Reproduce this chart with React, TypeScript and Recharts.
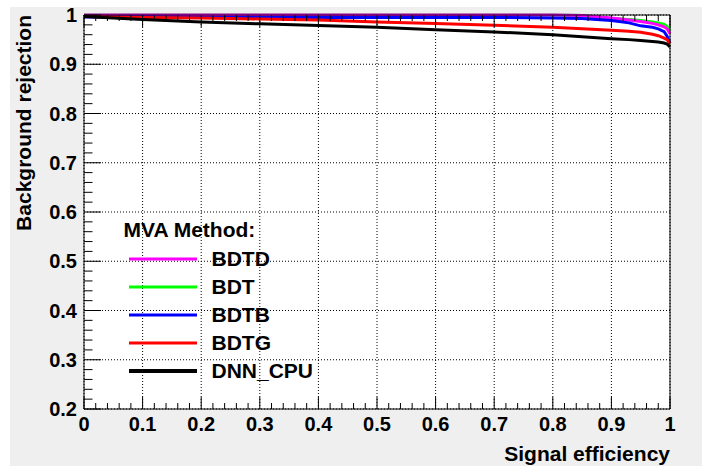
import React from 'react';
import { LineChart, Line, XAxis, YAxis, CartesianGrid, Legend } from 'recharts';

// Signal efficiency sample points
const effs = [0, 0.05, 0.1, 0.2, 0.3, 0.4, 0.5, 0.6, 0.7, 0.8, 0.85, 0.9, 0.93, 0.95, 0.97, 0.98, 0.99, 0.995, 1.0];
// Background rejection per method
const bdtd = [1, 1, 1, 1, 1, 1, 1, 1, 1, 1, 0.999, 0.994, 0.99, 0.987, 0.983, 0.98, 0.976, 0.972, 0.962];
const bdt = [1, 1, 1, 1, 1, 1, 1, 1, 1, 1, 0.999, 0.993, 0.991, 0.989, 0.986, 0.984, 0.981, 0.977, 0.968];
const bdtb = [0.996, 0.996, 0.996, 0.995, 0.995, 0.995, 0.995, 0.995, 0.995, 0.994, 0.993, 0.989, 0.984, 0.978, 0.975, 0.972, 0.966, 0.957, 0.943];
const bdtg = [0.997, 0.996, 0.995, 0.994, 0.992, 0.99, 0.986, 0.9825, 0.979, 0.975, 0.972, 0.969, 0.967, 0.965, 0.961, 0.958, 0.953, 0.95, 0.942];
const dnn = [0.997, 0.994, 0.991, 0.986, 0.982, 0.9785, 0.975, 0.97, 0.9656, 0.96, 0.956, 0.952, 0.95, 0.948, 0.946, 0.945, 0.943, 0.941, 0.935];

// Legend order
const seriesNames = ['BDTD', 'BDT', 'BDTB', 'BDTG', 'DNN_CPU'];
const seriesColors = ['#ff00ff', '#00ff00', '#0000ff', '#ff0000', '#000000'];
const seriesValues = [bdtd, bdt, bdtb, bdtg, dnn];
// Drawing order (indices into the arrays above)
const drawOrder = [1, 0, 2, 3, 4];

const xMajorTicks = [0, 0.1, 0.2, 0.3, 0.4, 0.5, 0.6, 0.7, 0.8, 0.9, 1];
const yMajorTicks = [0.2, 0.3, 0.4, 0.5, 0.6, 0.7, 0.8, 0.9, 1];
const xLabels = ['0', '0.1', '0.2', '0.3', '0.4', '0.5', '0.6', '0.7', '0.8', '0.9', '1'];
const yLabels = ['0.2', '0.3', '0.4', '0.5', '0.6', '0.7', '0.8', '0.9', '1'];

const xTitle = 'Signal efficiency';
const yTitle = 'Background rejection';
const legendTitle = 'MVA Method:';

const xAllTicks = Array.from({ length: 51 }, (_, i) => Math.round(i * 2) / 100);
const yAllTicks = Array.from({ length: 41 }, (_, i) => Math.round(20 + i * 2) / 100);

const data = effs.map((e, i) => {
  const row: any = { eff: e };
  seriesNames.forEach((n, k) => {
    row[n] = seriesValues[k][i];
  });
  return row;
});

const FONT = '"Liberation Sans", Arial, Helvetica, sans-serif';

const majorIndex = (arr: number[], v: number) => arr.findIndex((m) => Math.abs(m - v) < 1e-6);

const BottomTick = (props: any) => {
  const { x, y, payload } = props;
  const idx = majorIndex(xMajorTicks, payload.value);
  const len = idx >= 0 ? 12 : 6;
  return (
    <g>
      <line x1={x} y1={y} x2={x} y2={y - len} stroke="#000" strokeWidth={1} />
      {idx >= 0 && (
        <text x={x} y={y + 22} textAnchor="middle" fontFamily={FONT} fontWeight="bold" fontSize={20} fill="#000">
          {xLabels[idx]}
        </text>
      )}
    </g>
  );
};

const TopTick = (props: any) => {
  const { x, y, payload } = props;
  const idx = majorIndex(xMajorTicks, payload.value);
  const len = idx >= 0 ? 12 : 6;
  return <line x1={x} y1={y} x2={x} y2={y + len} stroke="#000" strokeWidth={1} />;
};

const LeftTick = (props: any) => {
  const { x, y, payload } = props;
  const idx = majorIndex(yMajorTicks, payload.value);
  const len = idx >= 0 ? 17 : 8.5;
  return (
    <g>
      <line x1={x} y1={y} x2={x + len} y2={y} stroke="#000" strokeWidth={1} />
      {idx >= 0 && (
        <text x={x - 7} y={y + 7} textAnchor="end" fontFamily={FONT} fontWeight="bold" fontSize={20} fill="#000">
          {yLabels[idx]}
        </text>
      )}
    </g>
  );
};

const RightTick = (props: any) => {
  const { x, y, payload } = props;
  const idx = majorIndex(yMajorTicks, payload.value);
  const len = idx >= 0 ? 17 : 8.5;
  return <line x1={x} y1={y} x2={x - len} y2={y} stroke="#000" strokeWidth={1} />;
};

const XTitle = () => (
  <text x={670} y={461} textAnchor="end" fontFamily={FONT} fontWeight="bold" fontSize={21} fill="#000">
    {xTitle}
  </text>
);

const YTitle = () => (
  <text
    x={31}
    y={15}
    transform="rotate(-90, 31, 15)"
    textAnchor="end"
    fontFamily={FONT}
    fontWeight="bold"
    fontSize={21}
    fill="#000"
  >
    {yTitle}
  </text>
);

const LegendBox = () => (
  <svg width={200} height={180} style={{ overflow: 'visible' }}>
    <text x={13.5} y={27} fontFamily={FONT} fontWeight="bold" fontSize={21} fill="#000">
      {legendTitle}
    </text>
    {seriesNames.map((n, i) => (
      <g key={n}>
        <line x1={19} x2={87} y1={49 + i * 28} y2={49 + i * 28} stroke={seriesColors[i]} strokeWidth={i === 4 ? 4 : 3} />
        <text x={101.5} y={56 + i * 28} fontFamily={FONT} fontWeight="bold" fontSize={21} fill="#000">
          {n}
        </text>
      </g>
    ))}
  </svg>
);

export default function App() {
  return (
    <div style={{ position: 'absolute', left: 0, top: 0, width: 702, height: 466, background: '#ffffff', overflow: 'hidden' }}>
      <div style={{ position: 'absolute', left: 10, top: 7, width: 692, height: 459, background: '#efefef' }} />
      <div style={{ position: 'absolute', left: 0, top: 0 }}>
        <LineChart width={702} height={466} data={data} margin={{ top: 0, right: 0, bottom: 0, left: 0 }}>
          <CartesianGrid
            xAxisId="b"
            yAxisId="l"
            fill="#ffffff"
            fillOpacity={1}
            stroke="#000"
            strokeDasharray="1 2"
            verticalValues={xMajorTicks}
            horizontalValues={yMajorTicks}
          />
          <XAxis
            xAxisId="b"
            dataKey="eff"
            type="number"
            domain={[0, 1]}
            ticks={xAllTicks}
            interval={0}
            height={57}
            tickSize={0}
            tickMargin={0}
            tickLine={false}
            tick={<BottomTick />}
            axisLine={{ stroke: '#000', strokeWidth: 1 }}
            label={<XTitle />}
          />
          <XAxis
            xAxisId="t"
            orientation="top"
            dataKey="eff"
            type="number"
            domain={[0, 1]}
            ticks={xAllTicks}
            interval={0}
            height={15}
            tickSize={0}
            tickMargin={0}
            tickLine={false}
            tick={<TopTick />}
            axisLine={{ stroke: '#000', strokeWidth: 1 }}
          />
          <YAxis
            yAxisId="l"
            type="number"
            domain={[0.2, 1]}
            ticks={yAllTicks}
            interval={0}
            width={84}
            tickSize={0}
            tickMargin={0}
            tickLine={false}
            tick={<LeftTick />}
            axisLine={{ stroke: '#000', strokeWidth: 1 }}
            label={<YTitle />}
          />
          <YAxis
            yAxisId="r"
            orientation="right"
            type="number"
            domain={[0.2, 1]}
            ticks={yAllTicks}
            interval={0}
            width={32}
            tickSize={0}
            tickMargin={0}
            tickLine={false}
            tick={<RightTick />}
            axisLine={{ stroke: '#000', strokeWidth: 1 }}
          />
          {drawOrder.map((i) => (
            <Line
              key={seriesNames[i]}
              xAxisId="b"
              yAxisId="l"
              type="linear"
              dataKey={seriesNames[i]}
              stroke={seriesColors[i]}
              strokeWidth={3}
              dot={false}
              activeDot={false}
              isAnimationActive={false}
            />
          ))}
          <Legend
            layout="vertical"
            align="center"
            verticalAlign="middle"
            content={() => <LegendBox />}
            wrapperStyle={{ left: 110, top: 210, width: 200, height: 180 }}
          />
        </LineChart>
      </div>
    </div>
  );
}
